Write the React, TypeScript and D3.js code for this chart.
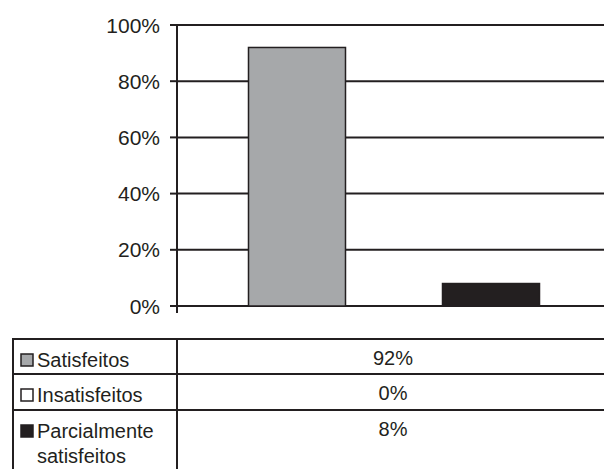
import { useEffect, useRef } from "react";
import * as d3 from "d3";

const categories = ["Satisfeitos", "Insatisfeitos", "Parcialmente satisfeitos"];
const values = [92, 0, 8];
const labelLines = [["Satisfeitos"], ["Insatisfeitos"], ["Parcialmente", "satisfeitos"]];
const colors = ["#a6a8aa", "#ffffff", "#231f20"];
const yTicks = [0, 20, 40, 60, 80, 100];

const W = 604;
const H = 469;
const INK = "#231f20";
const FONT = "Arial, 'Liberation Sans', Helvetica, sans-serif";

export default function App() {
  const svgRef = useRef<SVGSVGElement>(null);

  useEffect(() => {
    if (!svgRef.current) return;
    const svg = d3.select(svgRef.current);
    svg.selectAll("*").remove();

    const left = 177;
    const right = W;
    const top = 25;
    const bottom = 306;

    const y = d3.scaleLinear().domain([0, 100]).range([bottom, top]);
    const x = d3
      .scaleBand<string>()
      .domain(categories)
      .range([left, 611])
      .paddingInner(0)
      .paddingOuter(0.737);

    const g = svg.append("g");

    // Grid lines
    g.selectAll("line.grid")
      .data(yTicks)
      .join("line")
      .attr("class", "grid")
      .attr("x1", left)
      .attr("x2", right)
      .attr("y1", (d) => y(d))
      .attr("y2", (d) => y(d))
      .attr("stroke", INK)
      .attr("stroke-width", 2);

    // Tick marks
    g.selectAll("line.tick")
      .data(yTicks)
      .join("line")
      .attr("class", "tick")
      .attr("x1", left - 7)
      .attr("x2", left)
      .attr("y1", (d) => y(d))
      .attr("y2", (d) => y(d))
      .attr("stroke", INK)
      .attr("stroke-width", 2);

    // Tick labels
    g.selectAll("text.tick")
      .data(yTicks)
      .join("text")
      .attr("class", "tick")
      .attr("x", left - 17)
      .attr("y", (d) => y(d))
      .attr("dy", "0.36em")
      .attr("text-anchor", "end")
      .attr("font-family", FONT)
      .attr("font-size", 21)
      .attr("fill", INK)
      .text((d) => `${d}%`);

    // Bars
    g.selectAll("rect.bar")
      .data(categories)
      .join("rect")
      .attr("class", "bar")
      .attr("x", (d) => x(d)!)
      .attr("width", x.bandwidth())
      .attr("y", (_, i) => y(values[i]))
      .attr("height", (_, i) => y(0) - y(values[i]))
      .attr("fill", (_, i) => colors[i])
      .attr("stroke", INK)
      .attr("stroke-width", (_, i) => (values[i] > 0 ? 1.5 : 0));

    // Y axis line
    g.append("line")
      .attr("x1", left)
      .attr("x2", left)
      .attr("y1", top - 1)
      .attr("y2", bottom + 7)
      .attr("stroke", INK)
      .attr("stroke-width", 2);

    // Data table
    const tLeft = 13;
    const tDiv = 177;
    const tRight = 609;
    const rowTops = [339, 374, 410];
    const rowBottom = H + 2;

    const t = svg.append("g");
    t.selectAll("line.row")
      .data(rowTops)
      .join("line")
      .attr("class", "row")
      .attr("x1", tLeft)
      .attr("x2", W)
      .attr("y1", (d) => d)
      .attr("y2", (d) => d)
      .attr("stroke", INK)
      .attr("stroke-width", 2);

    [tLeft, tDiv].forEach((vx) => {
      t.append("line")
        .attr("x1", vx)
        .attr("x2", vx)
        .attr("y1", rowTops[0] - 1)
        .attr("y2", rowBottom)
        .attr("stroke", INK)
        .attr("stroke-width", 2);
    });

    categories.forEach((_, i) => {
      const rt = rowTops[i];
      const base = rt + 28;
      // legend key
      t.append("rect")
        .attr("x", 21)
        .attr("y", base - 13)
        .attr("width", 12)
        .attr("height", 12)
        .attr("fill", colors[i])
        .attr("stroke", INK)
        .attr("stroke-width", 1.5);

      labelLines[i].forEach((ln, j) => {
        t.append("text")
          .attr("x", 37)
          .attr("y", base + j * 24.5)
          .attr("font-family", FONT)
          .attr("font-size", 20)
          .attr("fill", INK)
          .text(ln);
      });

      t.append("text")
        .attr("x", (tDiv + tRight) / 2)
        .attr("y", base - 2)
        .attr("text-anchor", "middle")
        .attr("font-family", FONT)
        .attr("font-size", 20)
        .attr("fill", INK)
        .text(`${values[i]}%`);
    });
  }, []);

  return (
    <svg
      ref={svgRef}
      width={W}
      height={H}
      style={{ position: "absolute", left: 0, top: 0, background: "#fff" }}
    />
  );
}
